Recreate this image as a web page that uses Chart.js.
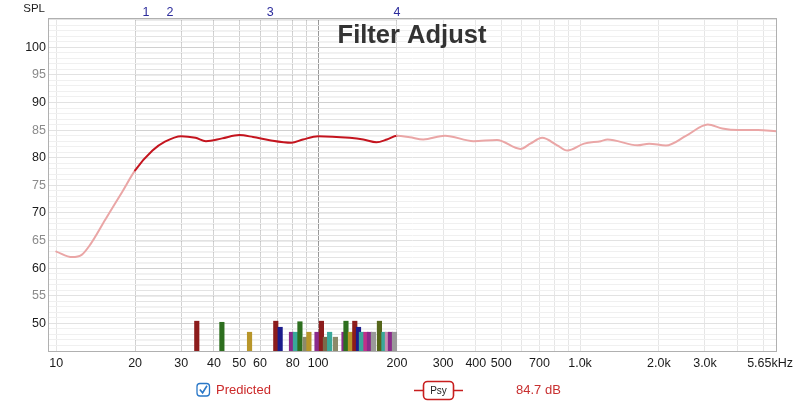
<!DOCTYPE html>
<html>
<head>
<meta charset="utf-8">
<script src="https://cdn.jsdelivr.net/npm/chart.js@4/dist/chart.umd.min.js"></script>
<style>
html,body{margin:0;padding:0;background:#fff;}
#wrap{width:800px;height:405px;position:relative;}
</style>
</head>
<body>
<div id="wrap"><canvas id="c" width="800" height="405"></canvas></div>
<script>
// ---- data ----
const freqs = [10, 11.5, 12.5, 13.5, 15.4, 17.9, 20, 23.3, 26, 30, 34, 37.3, 43, 50, 56.4, 65.3, 79, 87.5, 100, 132, 148.7, 167, 183, 200, 224, 252, 305, 392, 482, 592, 646, 717, 818, 894, 1036, 1200, 1273, 1657, 1836, 2128, 2547, 3075, 3491, 4007, 4779, 5615];
const spl = [63.0, 62.0, 62.4, 64.3, 68.8, 73.9, 77.7, 81.3, 82.9, 83.9, 83.6, 83.0, 83.5, 84.1, 83.75, 83.15, 82.7, 83.3, 83.9, 83.6, 83.3, 82.8, 83.3, 84.0, 83.7, 83.3, 84.0, 83.0, 83.2, 81.6, 82.55, 83.6, 82.25, 81.3, 82.55, 83.0, 83.3, 82.25, 82.55, 82.2, 84.0, 86.0, 85.3, 85.0, 85.0, 84.8];

const barFreqs = [34.4, 42.9, 54.7, 68.9, 71.6, 79.1, 81.9, 85.2, 89.2, 92.2, 99.0, 102.9, 106.6, 110.6, 116.4, 125.5, 127.7, 132.8, 138.0, 142.6, 146.3, 152.2, 157.0, 162.6, 171.4, 178.3, 183.9, 188.8, 195.6];
const barLevels = [50.4, 50.2, 48.4, 50.4, 49.3, 48.4, 48.4, 50.3, 47.5, 48.4, 48.4, 50.4, 47.5, 48.4, 47.5, 48.4, 50.4, 48.4, 50.4, 49.3, 48.4, 48.4, 48.4, 48.4, 50.4, 48.4, 48.4, 48.4, 48.4];
const barColors = ['#8c1c1c', '#2d6e1e', '#b8962a', '#8c1c1c', '#1c1c8c', '#8a2a8a', '#3aa89a', '#2d6e1e', '#8c8a6a', '#b8962a', '#8a2a8a', '#8c1c1c', '#7a6a4a', '#3aa89a', '#8c8a6a', '#8a2a8a', '#2d6e1e', '#b8962a', '#8c1c1c', '#1c1c8c', '#3aa89a', '#c0308a', '#8a2a8a', '#9a9a9a', '#55661a', '#3aa89a', '#c890b0', '#8a2a8a', '#9a9a9a'];

const xGridFreqs = [10, 20, 30, 40, 50, 60, 70, 80, 90, 100, 200, 300, 400, 500, 600, 700, 800, 900, 1000, 2000, 3000, 4000, 5000];
const xLabelFreqs = [10, 20, 30, 40, 50, 60, 80, 100, 200, 300, 400, 500, 700, 1000, 2000, 3000, 5650];
const xLabels = ['10', '20', '30', '40', '50', '60', '80', '100', '200', '300', '400', '500', '700', '1.0k', '2.0k', '3.0k', '5.65kHz'];
const yLabelValues = [50, 55, 60, 65, 70, 75, 80, 85, 90, 95, 100];
const markerFreqs = [22.0, 27.2, 65.6, 200];
const markerLabels = ['1', '2', '3', '4'];
const filterRange = [20, 200];
const xMin = 9.3, xMax = 5650, yMin = 45, yMax = 105.3;

const FONT = '"Liberation Sans", Arial, Helvetica, sans-serif';

const inRange = v => v >= filterRange[0] - 1e-9 && v <= filterRange[1] + 1e-9;

const overlay = {
  id: 'overlay',
  beforeDatasetsDraw(chart) {
    const {ctx, scales: {x, y}} = chart;
    const x0 = x.getPixelForValue(filterRange[0]), x1 = x.getPixelForValue(filterRange[1]);
    ctx.save();
    ctx.lineWidth = 1;
    for (let v = Math.ceil(yMin); v <= Math.floor(yMax); v++) {
      const py = Math.round(y.getPixelForValue(v)) + 0.5;
      ctx.strokeStyle = v % 5 === 0 ? 'rgba(0,0,0,0.08)' : 'rgba(0,0,0,0.05)';
      ctx.beginPath(); ctx.moveTo(x0, py); ctx.lineTo(x1, py); ctx.stroke();
    }
    ctx.restore();
  },
  afterDraw(chart) {
    const {ctx, chartArea: a, scales: {x, y}} = chart;
    ctx.save();
    // frame
    ctx.strokeStyle = '#b0b0b0';
    ctx.lineWidth = 1;
    ctx.strokeRect(a.left + 0.5, a.top + 0.5, a.right - a.left - 1, a.bottom - a.top);
    // y labels
    ctx.font = '12.5px ' + FONT;
    ctx.textAlign = 'right';
    ctx.textBaseline = 'middle';
    yLabelValues.forEach(v => {
      ctx.fillStyle = v % 10 === 0 ? '#1a1a1a' : '#8a8a8a';
      ctx.fillText(String(v), a.left - 2, y.getPixelForValue(v));
    });
    // x labels
    ctx.fillStyle = '#1a1a1a';
    xLabelFreqs.forEach((f, i) => {
      const px = x.getPixelForValue(f);
      if (i === xLabelFreqs.length - 1) { ctx.textAlign = 'right'; ctx.fillText(xLabels[i], px + 16, a.bottom + 13); }
      else { ctx.textAlign = 'center'; ctx.fillText(xLabels[i], px, a.bottom + 13); }
    });
    // SPL
    ctx.font = '11.5px ' + FONT;
    ctx.textAlign = 'right';
    ctx.fillStyle = '#222';
    ctx.fillText('SPL', a.left - 3, a.top - 9);
    // markers
    ctx.font = '12.5px ' + FONT;
    ctx.textAlign = 'center';
    ctx.fillStyle = '#2c2c9c';
    markerFreqs.forEach((f, i) => ctx.fillText(markerLabels[i], x.getPixelForValue(f), a.top - 5));
    // title
    ctx.font = 'bold 25.5px ' + FONT;
    ctx.fillStyle = '#333';
    ctx.textBaseline = 'alphabetic';
    ctx.textAlign = 'center';
    ctx.fillText('Filter Adjust', 412, 43);
    // legend: checkbox
    ctx.strokeStyle = '#2a78c8';
    ctx.lineWidth = 1.3;
    ctx.fillStyle = '#fff';
    ctx.beginPath();
    ctx.roundRect(197, 383.5, 12.5, 12.5, 3);
    ctx.fill(); ctx.stroke();
    ctx.lineWidth = 1.6;
    ctx.beginPath();
    ctx.moveTo(199.8, 389.5); ctx.lineTo(202.6, 392.8); ctx.lineTo(207, 385.8);
    ctx.stroke();
    ctx.font = '13px ' + FONT;
    ctx.fillStyle = '#cc2a2a';
    ctx.textAlign = 'left';
    ctx.textBaseline = 'middle';
    ctx.fillText('Predicted', 216, 390);
    // Psy
    ctx.strokeStyle = '#c81e1e';
    ctx.lineWidth = 1.6;
    ctx.beginPath(); ctx.moveTo(414, 390.5); ctx.lineTo(463, 390.5); ctx.stroke();
    ctx.fillStyle = '#fff';
    ctx.beginPath(); ctx.roundRect(423.5, 381.5, 30, 18, 4); ctx.fill(); ctx.stroke();
    ctx.fillStyle = '#222';
    ctx.font = '10px ' + FONT;
    ctx.textAlign = 'center';
    ctx.fillText('Psy', 438.5, 391);
    ctx.font = '13px ' + FONT;
    ctx.fillStyle = '#c83030';
    ctx.textAlign = 'left';
    ctx.fillText('84.7 dB', 516, 390);
    ctx.restore();
  }
};

new Chart(document.getElementById('c'), {
  data: {
    datasets: [
      {
        type: 'line',
        data: freqs.map((f, i) => ({x: f, y: spl[i]})),
        borderWidth: 2,
        pointRadius: 0,
        cubicInterpolationMode: 'monotone',
        borderColor: '#eaa6a6',
        borderCapStyle: 'round',
        segment: {
          borderColor: c => (inRange(c.p0.parsed.x) && inRange(c.p1.parsed.x)) ? '#c4141e' : '#eaa6a6'
        },
        order: 0
      },
      {
        type: 'bar',
        data: barFreqs.map((f, i) => ({x: f, y: [yMin, barLevels[i]]})),
        backgroundColor: barColors,
        borderWidth: 0,
        barThickness: 4.5,
        grouped: false,
        order: 1
      }
    ]
  },
  options: {
    responsive: false,
    animation: false,
    layout: {padding: {left: 48, top: 18, right: 23, bottom: 54}},
    plugins: {legend: {display: false}, tooltip: {enabled: false}},
    scales: {
      x: {
        type: 'logarithmic',
        min: xMin, max: xMax,
        offset: false,
        afterBuildTicks: s => { s.ticks = xGridFreqs.map(v => ({value: v})); },
        afterFit: s => { s.height = 0; },
        ticks: {display: false},
        border: {display: false},
        grid: {
          offset: false,
          drawTicks: false,
          color: c => c.tick && c.tick.value === 100 ? '#9a9a9a' : (c.tick && inRange(c.tick.value) ? '#d2d2d2' : '#e6e6e6')
        }
      },
      y: {
        type: 'linear',
        min: yMin, max: yMax,
        afterBuildTicks: s => { const t = []; for (let v = Math.ceil(yMin); v <= Math.floor(yMax); v++) t.push({value: v}); s.ticks = t; },
        afterFit: s => { s.width = 0; },
        ticks: {display: false},
        border: {display: false},
        grid: {
          drawTicks: false,
          color: c => c.tick && c.tick.value % 5 === 0 ? '#e2e2e2' : '#f0f0f0'
        }
      }
    }
  },
  plugins: [overlay]
});
</script>
</body>
</html>
